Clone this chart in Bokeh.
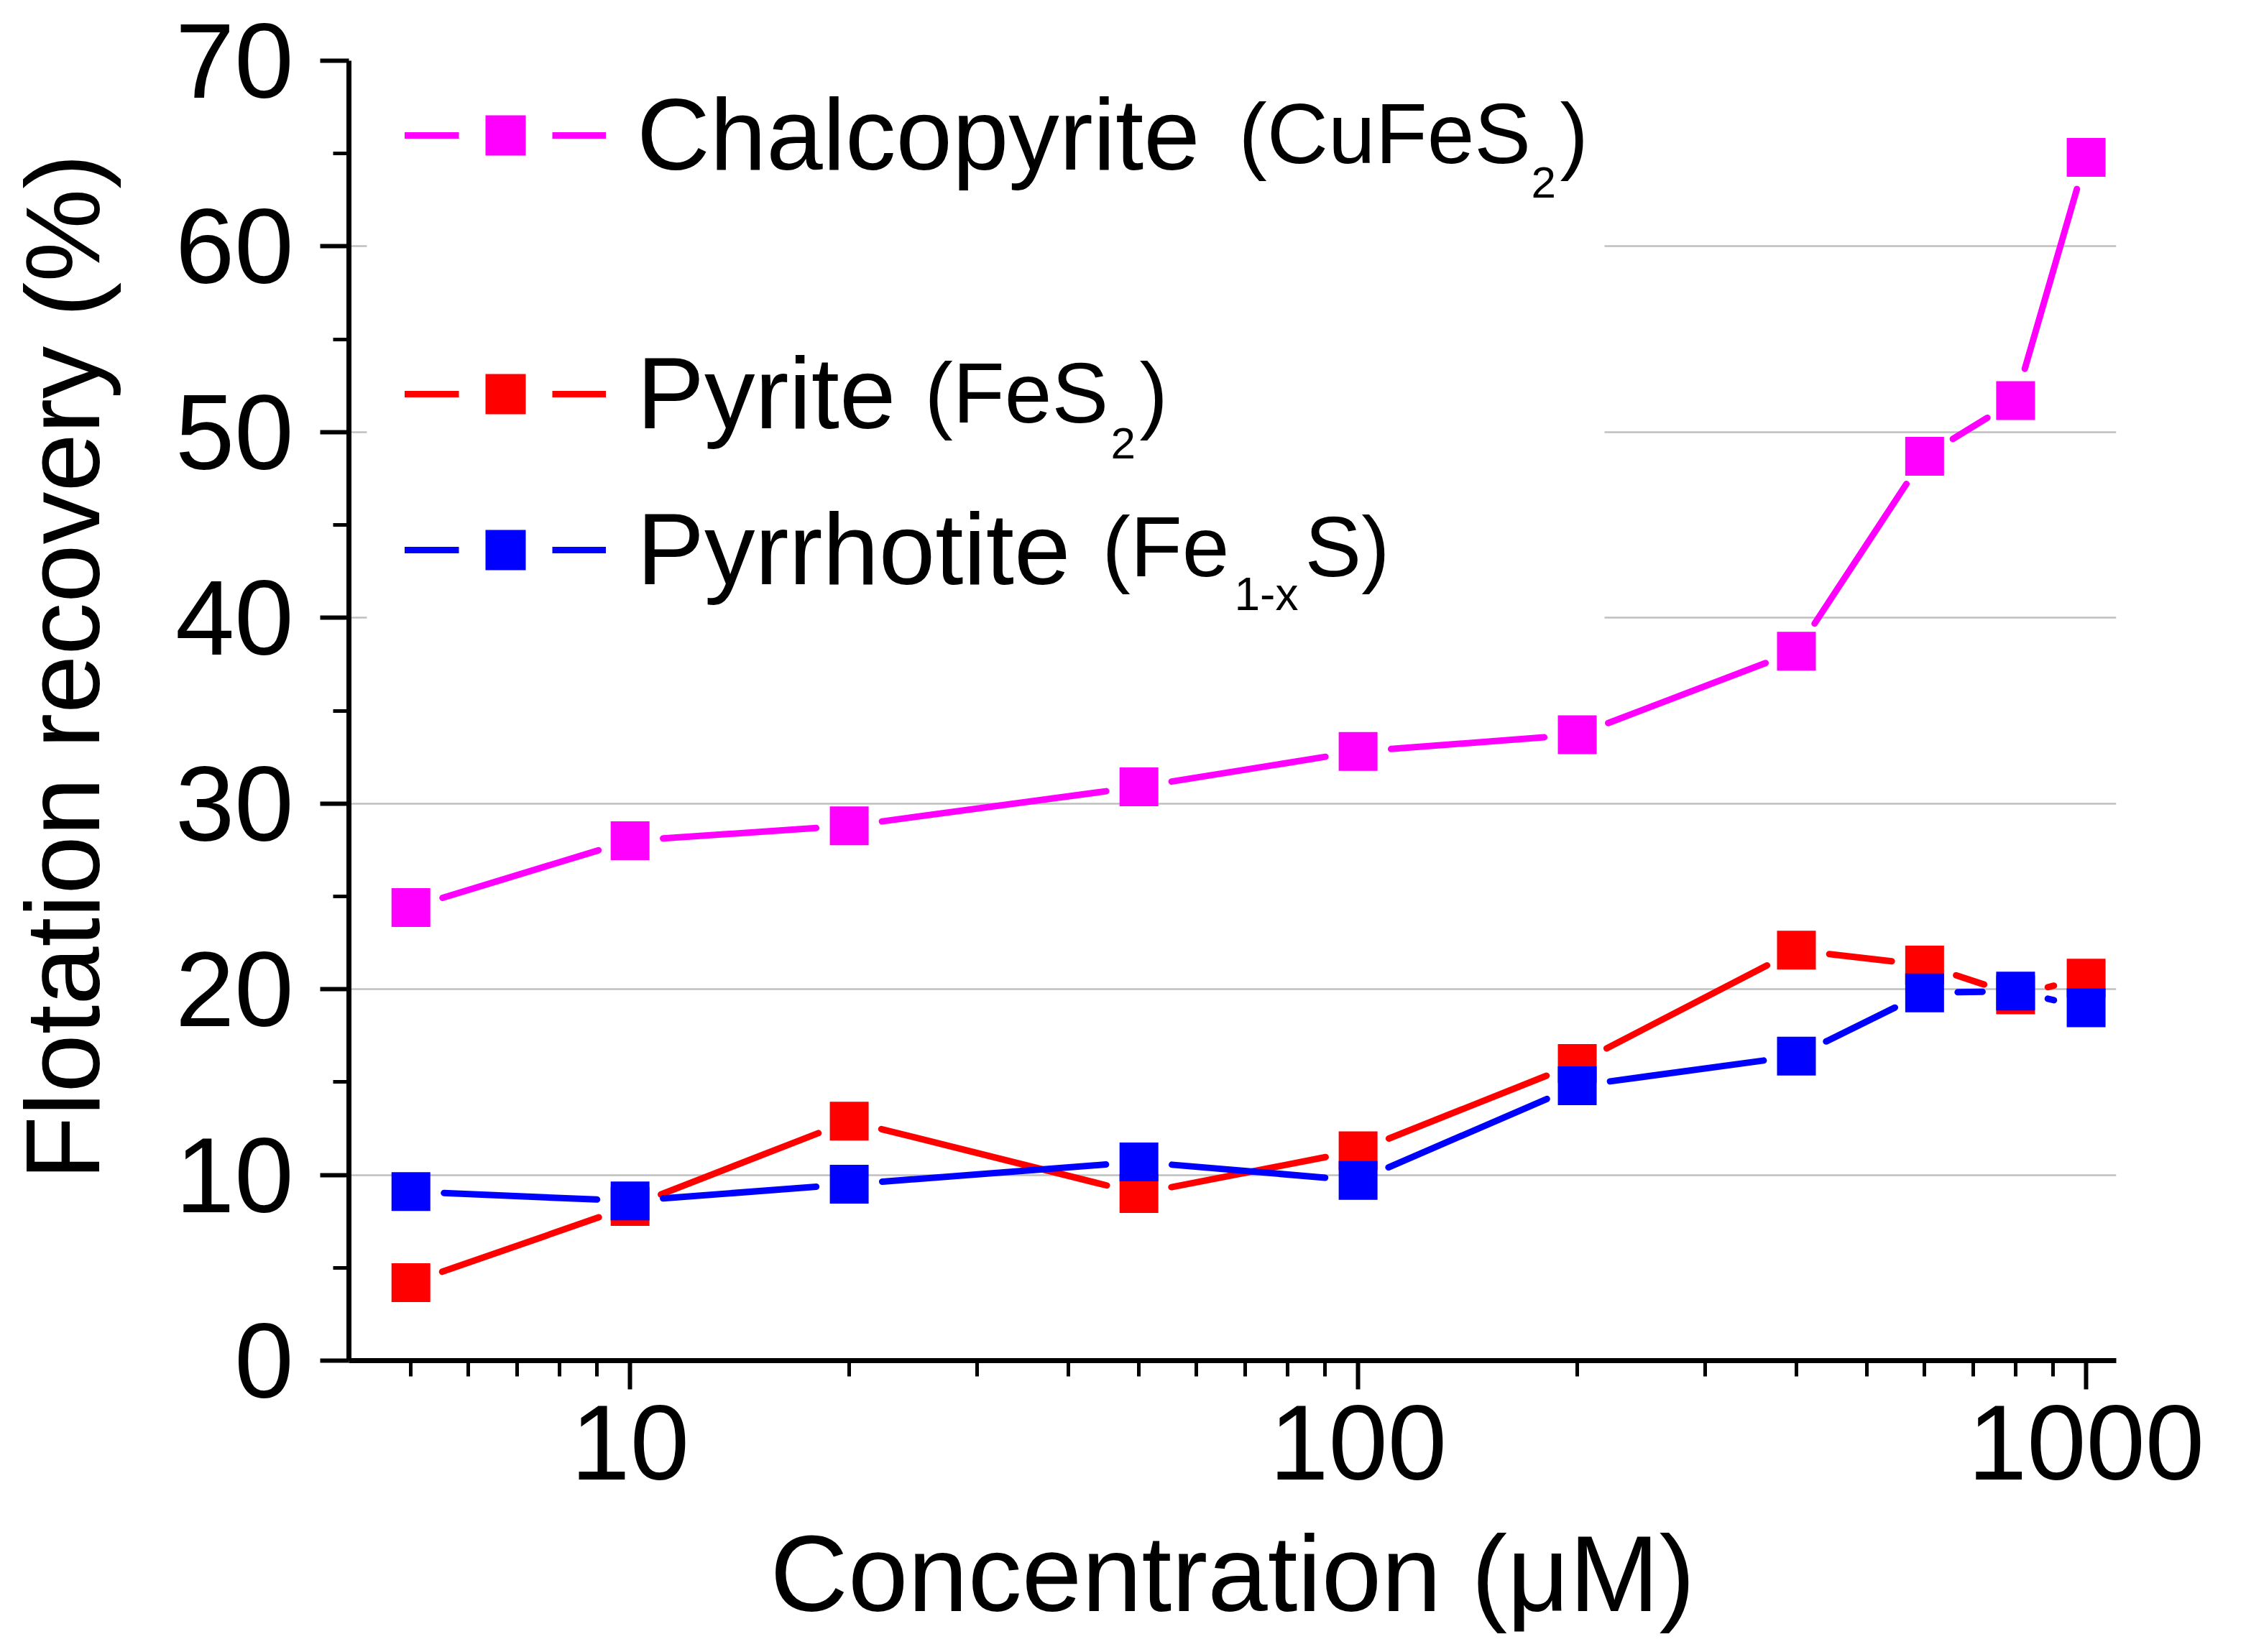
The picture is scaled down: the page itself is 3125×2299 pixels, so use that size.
import math
from bokeh.plotting import figure
from bokeh.models import (FixedTicker, PrintfTickFormatter, Legend, LegendItem,
                          Label, BoxAnnotation)
from bokeh.embed import file_html
from bokeh.resources import INLINE

# ---------------- data ----------------
concentration = [5, 10, 20, 50, 100, 200, 400, 600, 800, 1000]
chalcopyrite = [24.4, 28.0, 28.8, 30.9, 32.8, 33.7, 38.2, 48.7, 51.7, 64.8]
pyrite = [4.2, 8.3, 12.9, 9.0, 11.3, 16.0, 22.1, 21.3, 19.7, 20.6]
pyrrhotite = [9.1, 8.6, 9.5, 10.7, 9.7, 14.8, 16.4, 19.8, 19.9, 19.0]

series_names = ["Chalcopyrite", "Pyrite", "Pyrrhotite"]
series_colors = ["#ff00ff", "#ff0000", "#0000ff"]

x_major_ticks = [10, 100, 1000]
x_minor_ticks = [5, 6, 7, 8, 9, 20, 30, 40, 50, 60, 70, 80, 90,
                 200, 300, 400, 500, 600, 700, 800, 900]
y_major_ticks = [0, 10, 20, 30, 40, 50, 60, 70]
y_minor_ticks = [5, 15, 25, 35, 45, 55, 65]
y_grid_ticks = [10, 20, 30, 40, 50, 60]

# ---------------- layout constants ----------------
X_START, X_END = 4.11, 1100.0
Y_START, Y_END = 0, 70
FW, FH = 2459, 1809
FONT = "Liberation Sans"
MARKER = 54
GAP = 46          # gap (px) between marker centre and line end
LW = 9
NB = "\u00a0"

kx = FW / (math.log10(X_END) - math.log10(X_START))
ky = FH / (Y_END - Y_START)


def gapped_segments(xs, ys):
    """Line pieces between consecutive points, shortened near the markers."""
    x0s, y0s, x1s, y1s = [], [], [], []
    for a, b, c, d in zip(xs[:-1], ys[:-1], xs[1:], ys[1:]):
        px0, py0 = math.log10(a) * kx, b * ky
        px1, py1 = math.log10(c) * kx, d * ky
        L = math.hypot(px1 - px0, py1 - py0)
        if L <= 2 * GAP:
            continue
        ux, uy = (px1 - px0) / L, (py1 - py0) / L
        x0s.append(10 ** ((px0 + ux * GAP) / kx))
        y0s.append((py0 + uy * GAP) / ky)
        x1s.append(10 ** ((px1 - ux * GAP) / kx))
        y1s.append((py1 - uy * GAP) / ky)
    return x0s, y0s, x1s, y1s


p = figure(x_axis_type="log", x_range=(X_START, X_END), y_range=(Y_START, Y_END),
           frame_width=FW, frame_height=FH, output_backend="svg",
           toolbar_location=None,
           min_border_left=485, min_border_right=170,
           min_border_top=84, min_border_bottom=398)
p.outline_line_color = None
p.background_fill_color = "white"
p.border_fill_color = "white"

# grid
p.xgrid.visible = False
p.ygrid.ticker = FixedTicker(ticks=y_grid_ticks)
p.ygrid.grid_line_color = "#c0c0c0"
p.ygrid.grid_line_width = 2.5

# white area behind the legend hides the grid there
p.add_layout(BoxAnnotation(left=4.35, right=218, bottom=35,
                           fill_color="white", fill_alpha=1.0,
                           line_alpha=0, level="underlay"))

# axes
for ax in (p.xaxis[0], p.yaxis[0]):
    ax.axis_line_width = 7
    ax.axis_line_color = "black"
    ax.major_tick_line_width = 6
    ax.minor_tick_line_width = 5
    ax.major_tick_out = 40
    ax.major_tick_in = 0
    ax.minor_tick_out = 22
    ax.minor_tick_in = 0
    ax.major_label_text_font = FONT
    ax.major_label_text_font_size = "148px"
    ax.major_label_text_color = "black"
    ax.axis_label_text_font = FONT
    ax.axis_label_text_font_style = "normal"
    ax.axis_label_text_color = "black"

p.xaxis.ticker = FixedTicker(ticks=x_major_ticks, minor_ticks=x_minor_ticks)
p.xaxis.formatter = PrintfTickFormatter(format="%d")
p.xaxis.major_label_standoff = 22
p.xaxis.axis_label = "Concentration (\u03bcM)"
p.xaxis.axis_label_text_font_size = "150px"
p.xaxis.axis_label_standoff = 44

p.yaxis.ticker = FixedTicker(ticks=y_major_ticks, minor_ticks=y_minor_ticks)
p.yaxis.major_label_standoff = 37
p.yaxis.axis_label = NB * 3 + "Flotation recovery (%)"
p.yaxis.axis_label_text_font_size = "146px"
p.yaxis.axis_label_standoff = 72

# data
series = [chalcopyrite, pyrite, pyrrhotite]
line_renderers, marker_renderers = [], []
for vals, col in zip(series, series_colors):
    x0, y0, x1, y1 = gapped_segments(concentration, vals)
    s = p.segment(x0, y0, x1, y1, line_color=col, line_width=LW, line_cap="round")
    r = p.scatter(concentration, vals, marker="square", size=MARKER,
                  fill_color=col, line_color=col, line_width=0)
    line_renderers.append(s)
    marker_renderers.append(r)

# legends (one per row, to reproduce the uneven spacing)
legend_rows_y = [1702, 1342, 1125]     # row centres, px above frame bottom
for name, sr, mr, yc in zip(series_names, line_renderers, marker_renderers, legend_rows_y):
    mask = p.scatter([10], [float("nan")], marker="square", size=MARKER,
                     fill_color="white", line_color="white", line_width=74)
    leg = Legend(items=[LegendItem(label=name, renderers=[sr, mask, mr])],
                 location=(78, yc - 78), padding=0, margin=0, spacing=0,
                 glyph_width=280, glyph_height=140, label_standoff=43,
                 label_text_font=FONT, label_text_font_size="141px",
                 label_text_color="black", border_line_alpha=0,
                 background_fill_alpha=0)
    p.add_layout(leg)

# chemical formulas next to the legend names: (text, x from frame left,
# baseline y from frame top, font size px)
formula_parts = [
    ("(CuFeS", 1238, 145, 118), ("2", 1645, 192, 62), (")", 1685, 145, 118),
    ("(FeS", 801, 506, 118), ("2", 1060, 555, 62), (")", 1100, 506, 118),
    ("(Fe", 1048, 720, 118), ("1-x", 1232, 766, 64), ("S)", 1330, 720, 118),
]
K_BASE = 0.37
for txt, lx, by, fs in formula_parts:
    p.add_layout(Label(x=lx, y=FH - by + K_BASE * fs, x_units="screen", y_units="screen",
                       text=txt, text_font=FONT, text_font_size=f"{fs}px",
                       text_color="black", text_align="left",
                       text_baseline="alphabetic"))

open("out.html", "w").write(file_html(p, INLINE))
